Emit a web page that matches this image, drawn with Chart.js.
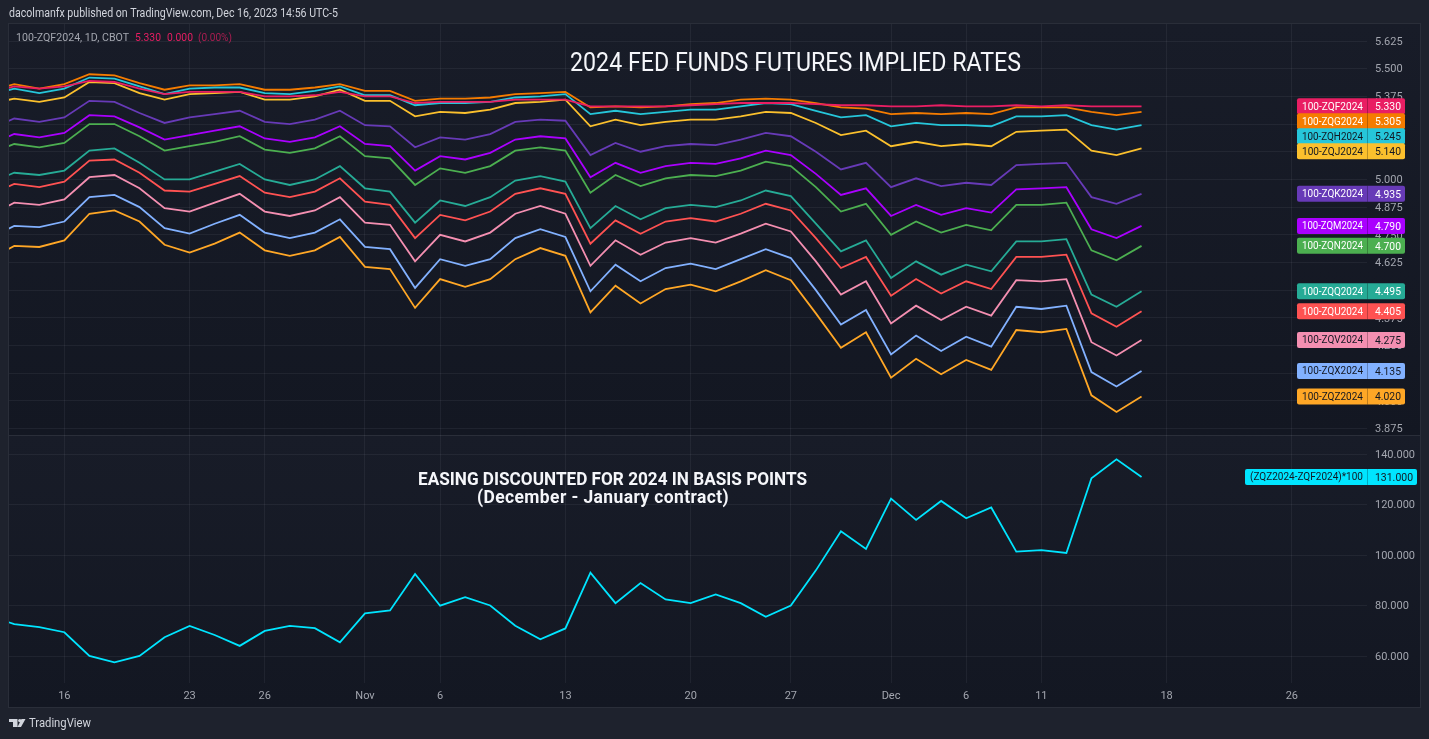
<!DOCTYPE html>
<html>
<head>
<meta charset="utf-8">
<title>2024 Fed Funds Futures Implied Rates</title>
<script src="https://cdn.jsdelivr.net/npm/chart.js@4"></script>
<style>
  html, body { margin: 0; padding: 0; background: #1e222d; overflow: hidden; }
  canvas { display: block; }
</style>
</head>
<body>
<canvas id="futures-chart" width="1429" height="739"></canvas>
<script>
// sessions on the time axis (Dec 18 onward is empty space right of the last bar)
const sessions = [
  "Oct 11", "Oct 12", "Oct 13", "Oct 16", "Oct 17", "Oct 18", "Oct 19", "Oct 20",
  "Oct 23", "Oct 24", "Oct 25", "Oct 26", "Oct 27", "Oct 30", "Oct 31", "Nov 1",
  "Nov 2", "Nov 3", "Nov 6", "Nov 7", "Nov 8", "Nov 9", "Nov 10", "Nov 13",
  "Nov 14", "Nov 15", "Nov 16", "Nov 17", "Nov 20", "Nov 21", "Nov 22", "Nov 24",
  "Nov 27", "Nov 28", "Nov 29", "Nov 30", "Dec 1", "Dec 4", "Dec 5", "Dec 6",
  "Dec 7", "Dec 8", "Dec 11", "Dec 12", "Dec 13", "Dec 14", "Dec 15", "Dec 18",
  "Dec 19", "Dec 20", "Dec 21", "Dec 22", "Dec 26", "Dec 27", "Dec 28", "Dec 29",
];
const tickSessions = ["Oct 16", "Oct 23", "Oct 26", "Nov 1", "Nov 6", "Nov 13", "Nov 20", "Nov 27", "Dec 1", "Dec 6", "Dec 11", "Dec 18", "Dec 26"];
const tickLabels = ["16", "23", "26", "Nov", "6", "13", "20", "27", "Dec", "6", "11", "18", "26"];

const priceTicks = [5.625, 5.5, 5.375, 5.25, 5.125, 5, 4.875, 4.75, 4.625, 4.5, 4.375, 4.25, 4.125, 4, 3.875];
const spreadTicks = [140, 120, 100, 80, 60];

const ZQF = [5.39, 5.42, 5.41, 5.42, 5.445, 5.44, 5.41, 5.385, 5.395, 5.395, 5.395, 5.375, 5.375, 5.38, 5.395, 5.375, 5.375, 5.345, 5.35, 5.35, 5.35, 5.36, 5.36, 5.36, 5.33, 5.33, 5.33, 5.33, 5.335, 5.34, 5.345, 5.345, 5.345, 5.34, 5.335, 5.335, 5.33, 5.33, 5.335, 5.33, 5.33, 5.335, 5.33, 5.335, 5.33, 5.33, 5.33];
const ZQG = [5.4, 5.43, 5.41, 5.43, 5.475, 5.47, 5.435, 5.405, 5.425, 5.425, 5.43, 5.405, 5.405, 5.415, 5.43, 5.4, 5.4, 5.355, 5.365, 5.365, 5.37, 5.385, 5.39, 5.395, 5.325, 5.33, 5.325, 5.33, 5.34, 5.345, 5.36, 5.365, 5.36, 5.345, 5.325, 5.32, 5.295, 5.3, 5.295, 5.3, 5.295, 5.325, 5.325, 5.325, 5.305, 5.29, 5.305];
const ZQH = [5.38, 5.41, 5.39, 5.41, 5.46, 5.455, 5.42, 5.385, 5.41, 5.415, 5.415, 5.39, 5.385, 5.4, 5.42, 5.38, 5.38, 5.335, 5.345, 5.345, 5.35, 5.37, 5.375, 5.385, 5.295, 5.31, 5.295, 5.305, 5.315, 5.315, 5.33, 5.345, 5.34, 5.31, 5.28, 5.29, 5.24, 5.255, 5.245, 5.245, 5.24, 5.285, 5.285, 5.29, 5.245, 5.225, 5.245];
const ZQJ = [5.34, 5.365, 5.35, 5.37, 5.44, 5.435, 5.39, 5.36, 5.385, 5.39, 5.395, 5.36, 5.36, 5.375, 5.405, 5.355, 5.355, 5.285, 5.305, 5.3, 5.315, 5.345, 5.35, 5.36, 5.24, 5.27, 5.245, 5.26, 5.27, 5.27, 5.285, 5.305, 5.3, 5.255, 5.2, 5.22, 5.15, 5.17, 5.15, 5.16, 5.15, 5.215, 5.22, 5.225, 5.13, 5.11, 5.14];
const ZQK = [5.225, 5.275, 5.26, 5.28, 5.355, 5.35, 5.3, 5.255, 5.28, 5.295, 5.31, 5.26, 5.25, 5.27, 5.31, 5.245, 5.24, 5.145, 5.19, 5.18, 5.205, 5.26, 5.27, 5.265, 5.11, 5.165, 5.125, 5.15, 5.16, 5.155, 5.18, 5.21, 5.195, 5.125, 5.045, 5.075, 4.965, 5.005, 4.97, 4.985, 4.975, 5.065, 5.07, 5.075, 4.92, 4.89, 4.935];
const ZQM = [5.155, 5.205, 5.19, 5.21, 5.29, 5.285, 5.235, 5.18, 5.2, 5.22, 5.24, 5.185, 5.17, 5.19, 5.24, 5.16, 5.15, 5.04, 5.105, 5.09, 5.12, 5.18, 5.195, 5.185, 5.01, 5.075, 5.03, 5.06, 5.075, 5.07, 5.095, 5.13, 5.11, 5.025, 4.93, 4.96, 4.835, 4.885, 4.84, 4.87, 4.85, 4.955, 4.96, 4.965, 4.775, 4.735, 4.79];
const ZQN = [5.115, 5.16, 5.145, 5.165, 5.25, 5.25, 5.195, 5.13, 5.15, 5.17, 5.195, 5.135, 5.12, 5.14, 5.195, 5.105, 5.095, 4.975, 5.05, 5.03, 5.06, 5.13, 5.145, 5.13, 4.94, 5.02, 4.97, 5.005, 5.02, 5.015, 5.04, 5.08, 5.06, 4.965, 4.855, 4.89, 4.75, 4.81, 4.76, 4.795, 4.77, 4.885, 4.885, 4.895, 4.68, 4.635, 4.7];
const ZQQ = [4.985, 5.03, 5.02, 5.04, 5.13, 5.14, 5.075, 5, 5, 5.035, 5.07, 5, 4.975, 5, 5.06, 4.96, 4.945, 4.805, 4.905, 4.88, 4.92, 4.995, 5.015, 4.99, 4.78, 4.88, 4.82, 4.87, 4.885, 4.875, 4.905, 4.95, 4.925, 4.8, 4.675, 4.725, 4.555, 4.63, 4.57, 4.615, 4.585, 4.72, 4.72, 4.73, 4.48, 4.425, 4.495];
const ZQU = [4.93, 4.98, 4.965, 4.99, 5.085, 5.09, 5.03, 4.95, 4.945, 4.98, 5.015, 4.94, 4.92, 4.945, 5.005, 4.9, 4.885, 4.735, 4.84, 4.815, 4.855, 4.935, 4.96, 4.935, 4.71, 4.815, 4.755, 4.81, 4.825, 4.81, 4.845, 4.89, 4.86, 4.735, 4.6, 4.65, 4.475, 4.55, 4.485, 4.54, 4.505, 4.65, 4.65, 4.66, 4.395, 4.335, 4.405];
const ZQV = [4.835, 4.895, 4.885, 4.91, 5.01, 5.02, 4.96, 4.87, 4.855, 4.895, 4.935, 4.855, 4.835, 4.86, 4.92, 4.805, 4.795, 4.63, 4.75, 4.72, 4.76, 4.845, 4.88, 4.845, 4.61, 4.725, 4.66, 4.715, 4.735, 4.715, 4.755, 4.8, 4.765, 4.63, 4.48, 4.54, 4.35, 4.43, 4.365, 4.425, 4.385, 4.545, 4.54, 4.55, 4.265, 4.205, 4.275];
const ZQX = [4.735, 4.79, 4.785, 4.81, 4.92, 4.93, 4.875, 4.78, 4.755, 4.8, 4.84, 4.76, 4.735, 4.76, 4.82, 4.695, 4.685, 4.51, 4.64, 4.61, 4.64, 4.735, 4.775, 4.74, 4.495, 4.615, 4.54, 4.6, 4.62, 4.595, 4.64, 4.685, 4.645, 4.5, 4.345, 4.41, 4.21, 4.295, 4.225, 4.29, 4.245, 4.425, 4.415, 4.43, 4.13, 4.065, 4.135];
const ZQZ = [4.64, 4.7, 4.695, 4.725, 4.845, 4.86, 4.81, 4.705, 4.67, 4.71, 4.76, 4.68, 4.655, 4.68, 4.74, 4.605, 4.595, 4.42, 4.55, 4.515, 4.55, 4.64, 4.69, 4.655, 4.4, 4.52, 4.44, 4.505, 4.525, 4.495, 4.54, 4.59, 4.545, 4.395, 4.24, 4.31, 4.105, 4.19, 4.12, 4.185, 4.14, 4.32, 4.31, 4.325, 4.025, 3.95, 4.02];
const spread = [76, 72.7, 71.5, 69.5, 60.1, 57.6, 60.1, 67.5, 72, 68.4, 64.1, 70, 72, 71.1, 65.5, 77, 78.1, 92.6, 80, 83.4, 80.1, 72.1, 66.7, 71, 93.1, 81, 89, 82.5, 81, 84.5, 81, 75.6, 80.1, 94, 109.5, 102.5, 122.4, 114, 121.5, 114.6, 118.9, 101.4, 102, 100.9, 130.5, 138, 131];

const contracts = [
  { name: "100-ZQF2024", values: ZQF, color: "#e91e63", text: "#ffffff" },
  { name: "100-ZQG2024", values: ZQG, color: "#f57c00", text: "#ffffff" },
  { name: "100-ZQH2024", values: ZQH, color: "#26c6da", text: "#131722" },
  { name: "100-ZQJ2024", values: ZQJ, color: "#fbc02d", text: "#131722" },
  { name: "100-ZQK2024", values: ZQK, color: "#673ab7", text: "#ffffff" },
  { name: "100-ZQM2024", values: ZQM, color: "#aa00ff", text: "#ffffff" },
  { name: "100-ZQN2024", values: ZQN, color: "#4caf50", text: "#ffffff" },
  { name: "100-ZQQ2024", values: ZQQ, color: "#26ab96", text: "#ffffff" },
  { name: "100-ZQU2024", values: ZQU, color: "#ff5252", text: "#ffffff" },
  { name: "100-ZQV2024", values: ZQV, color: "#f48fb1", text: "#131722" },
  { name: "100-ZQX2024", values: ZQX, color: "#82b1ff", text: "#131722" },
  { name: "100-ZQZ2024", values: ZQZ, color: "#ffa726", text: "#131722" },
];
const spreadName = "(ZQZ2024-ZQF2024)*100";
const spreadColor = "#00e5ff";

const FONT = "Roboto, sans-serif";
const AXIS_TEXT = "#a3a6af";
const GRID = "rgba(240, 243, 250, 0.06)";

function points(values) {
  return values.map((y, i) => ({ x: i, y: y }));
}

function drawText(ctx, text, x, y, font, color, maxWidth, align) {
  ctx.font = font;
  ctx.fillStyle = color;
  ctx.textAlign = align || "left";
  ctx.textBaseline = "middle";
  ctx.fillText(text, x, y, maxWidth);
}

// tag on the price scale, name box left of the scale and value box over it
function drawTag(ctx, area, y, name, value, color, textColor, boxRight) {
  ctx.font = "11.5px " + FONT;
  const nameWidth = Math.min(ctx.measureText(name).width, name.length > 12 ? 113 : 61);
  const left = area.right - nameWidth - 9;
  ctx.fillStyle = color;
  ctx.beginPath();
  ctx.roundRect(left, y - 8, boxRight - left, 16, 2);
  ctx.fill();
  ctx.fillStyle = "rgba(0, 0, 0, 0.25)";
  ctx.fillRect(area.right, y - 8, 1, 16);
  drawText(ctx, name, area.right - 4, y + 0.5, "11.5px " + FONT, textColor, nameWidth, "right");
  drawText(ctx, value, area.right + 8, y + 1, "11.5px " + FONT, textColor, boxRight - area.right - 12);
}

// pane fill and frame, under the grid
const panePlugin = {
  id: "panes",
  beforeDraw(chart) {
    const ctx = chart.ctx;
    const area = chart.chartArea;
    const split = chart.scales.y.bottom;
    const frameRight = chart.scales.y.right;
    const bottom = chart.scales.x.bottom;
    [[area.top, split], [split, bottom]].forEach(([from, to]) => {
      const fill = ctx.createLinearGradient(0, from, 0, to);
      fill.addColorStop(0, "#181c28");
      fill.addColorStop(1, "#131722");
      ctx.fillStyle = fill;
      ctx.fillRect(area.left, from, frameRight - area.left, to - from);
    });
    ctx.strokeStyle = "#2a2e39";
    ctx.lineWidth = 1;
    ctx.strokeRect(area.left - 0.5, area.top - 0.5, frameRight - area.left + 1, bottom - area.top + 1);
    ctx.fillStyle = "#2a2e39";
    ctx.fillRect(area.left, Math.round(split), frameRight - area.left, 1);
  },
};

// headings, value tags and the logo, above the lines
const overlayPlugin = {
  id: "overlay",
  afterDraw(chart) {
    const ctx = chart.ctx;
    const area = chart.chartArea;
    ctx.save();

    drawText(ctx, "dacolmanfx published on TradingView.com, Dec 16, 2023 14:56 UTC-5", 9, 13.5, "12px " + FONT, "#d1d4dc", 329);
    drawText(ctx, "100-ZQF2024, 1D, CBOT", 16, 38, "11.5px " + FONT, "#a3a6af", 113);
    drawText(ctx, "5.330", 135, 38, "11.5px " + FONT, "#e91e63", 26);
    drawText(ctx, "0.000", 167, 38, "11.5px " + FONT, "#e91e63", 26);
    drawText(ctx, "(0.00%)", 198, 38, "11.5px " + FONT, "rgba(233, 30, 99, 0.7)", 34);

    drawText(ctx, "2024 FED FUNDS FUTURES IMPLIED RATES", 570, 64.5, "25.5px " + FONT, "#f5f6fa", 451);
    drawText(ctx, "EASING DISCOUNTED FOR 2024 IN BASIS POINTS", 418, 480.5, "bold 17.5px " + FONT, "#f5f6fa", 389);
    ctx.letterSpacing = "0.4px";
    drawText(ctx, "(December - January contract)", 477, 499, "bold 17.5px " + FONT, "#f5f6fa", 252);
    ctx.letterSpacing = "0px";

    // tags keep their value height unless the tag above would be covered
    let lastY = -100;
    contracts.forEach((c) => {
      const value = c.values[c.values.length - 1];
      const y = Math.max(chart.scales.y.getPixelForValue(value), lastY + 15);
      drawTag(ctx, area, y, c.name, value.toFixed(3), c.color, c.text, 1405);
      lastY = y;
    });
    const lastSpread = spread[spread.length - 1];
    drawTag(ctx, area, chart.scales.y2.getPixelForValue(lastSpread), spreadName, lastSpread.toFixed(3), spreadColor, "#131722", 1417);

    // TradingView mark
    ctx.fillStyle = "#d1d4dc";
    ctx.beginPath();
    ctx.rect(9, 719, 8.5, 3);
    ctx.rect(13, 719, 4.5, 8);
    ctx.moveTo(21, 727);
    ctx.lineTo(25.5, 719);
    ctx.lineTo(21.5, 719);
    ctx.lineTo(17.5, 727);
    ctx.closePath();
    ctx.fill();
    ctx.beginPath();
    ctx.arc(19.8, 720.6, 1.7, 0, Math.PI * 2);
    ctx.fill();
    drawText(ctx, "TradingView", 29, 724, "13.5px " + FONT, "#d1d4dc", 62);

    ctx.restore();
  },
};

const datasets = contracts.map((c) => ({
  label: c.name,
  data: points(c.values),
  borderColor: c.color,
  borderWidth: 1.8,
  pointRadius: 0,
  tension: 0,
  yAxisID: "y",
}));
datasets.push({
  label: spreadName,
  data: points(spread),
  borderColor: spreadColor,
  borderWidth: 1.8,
  pointRadius: 0,
  tension: 0,
  yAxisID: "y2",
});

const config = {
  type: "line",
  data: { datasets: datasets },
  plugins: [panePlugin, overlayPlugin],
  options: {
    responsive: false,
    animation: false,
    devicePixelRatio: 1,
    layout: { padding: { top: 24, left: 9, right: 9, bottom: 32 } },
    plugins: {
      legend: { display: false },
      tooltip: { enabled: false },
    },
    scales: {
      x: {
        type: "linear",
        min: 0.79,
        max: 55,
        afterBuildTicks(scale) {
          scale.ticks = tickSessions.map((s) => ({ value: sessions.indexOf(s) }));
        },
        afterFit(scale) {
          scale.height = 24;
        },
        grid: { color: GRID, drawTicks: false },
        border: { display: false },
        ticks: {
          autoSkip: false,
          maxRotation: 0,
          padding: 7,
          color: AXIS_TEXT,
          font: { family: FONT, size: 11 },
          callback(value) {
            return tickLabels[tickSessions.indexOf(sessions[value])];
          },
        },
      },
      y: {
        position: "right",
        stack: "panes",
        stackWeight: 411,
        min: 3.846,
        max: 5.7018,
        afterBuildTicks(scale) {
          scale.ticks = priceTicks.map((v) => ({ value: v }));
        },
        afterFit(scale) {
          scale.width = 53;
        },
        grid: { color: GRID, drawTicks: false },
        border: { display: false },
        ticks: {
          autoSkip: false,
          padding: 8,
          labelOffset: 1,
          color: AXIS_TEXT,
          font: { family: FONT, size: 11 },
          callback: (value) => value.toFixed(3),
        },
      },
      y2: {
        position: "right",
        stack: "panes",
        stackWeight: 248,
        min: 49.4,
        max: 147.6,
        afterBuildTicks(scale) {
          scale.ticks = spreadTicks.map((v) => ({ value: v }));
        },
        afterFit(scale) {
          scale.width = 53;
        },
        grid: { color: GRID, drawTicks: false },
        border: { display: false },
        ticks: {
          autoSkip: false,
          padding: 8,
          labelOffset: 1,
          color: AXIS_TEXT,
          font: { family: FONT, size: 11 },
          callback: (value) => value.toFixed(3),
        },
      },
    },
  },
};

new Chart(document.getElementById("futures-chart"), config);
</script>
</body>
</html>
